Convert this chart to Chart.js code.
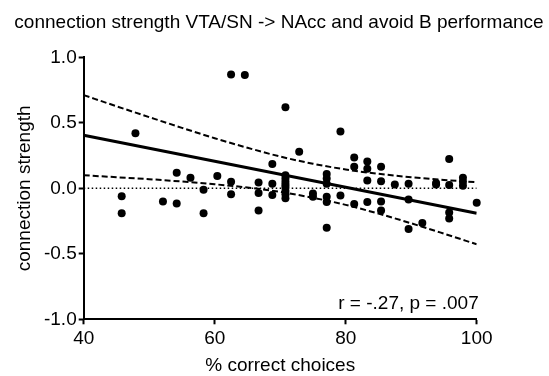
<!DOCTYPE html>
<html>
<head>
<meta charset="utf-8">
<script src="https://cdn.jsdelivr.net/npm/chart.js@4.4.0/dist/chart.umd.min.js"></script>
<style>
  html, body { margin: 0; padding: 0; background: #fff; }
</style>
</head>
<body>
<canvas id="corrChart" width="549" height="376"></canvas>
<script>
// Text
const chartTitle = "connection strength VTA/SN -> NAcc and avoid B performance";
const xTitle = "% correct choices";
const yTitle = "connection strength";
const statText = "r = -.27, p = .007";

// Axis ticks
const xTicks = [40, 60, 80, 100];
const yTicks = [-1.0, -0.5, 0.0, 0.5, 1.0];

// One entry per subject: % correct choices and VTA/SN -> NAcc connection strength
const pctCorrect = [
  45.8, 45.8, 47.9, 52.1, 54.2, 54.2, 56.3, 58.3, 58.3, 60.4,
  62.5, 62.5, 62.5, 64.6, 66.7, 66.7, 66.7, 68.8, 68.8, 68.8,
  70.8, 70.8, 70.8, 70.8, 70.8, 70.8, 70.8, 70.8, 70.8, 72.9,
  75.0, 75.0, 77.1, 77.1, 77.1, 77.1, 77.1, 77.1, 79.2, 79.2,
  81.3, 81.3, 81.3, 83.3, 83.3, 83.3, 83.3, 85.4, 85.4, 85.4,
  85.4, 87.5, 89.6, 89.6, 89.6, 91.7, 93.8, 93.8, 95.8, 95.8,
  95.8, 95.8, 97.9, 97.9, 97.9, 100
];
const connStrength = [
  -0.06, -0.19, 0.42, -0.10, 0.12, -0.115, 0.08, -0.01, -0.19, 0.095,
  0.87, 0.05, -0.045, 0.865, 0.045, -0.035, -0.17, 0.185, 0.035, -0.05,
  0.62, 0.10, 0.075, 0.05, 0.03, 0.01, -0.02, -0.045, -0.075, 0.28,
  -0.04, -0.065, 0.11, 0.075, 0.035, -0.065, -0.105, -0.30, 0.435, -0.055,
  0.235, 0.165, -0.12, 0.205, 0.15, 0.06, -0.105, 0.165, 0.055, -0.10,
  -0.17, 0.03, 0.035, -0.085, -0.31, -0.265, 0.04, 0.03, 0.225, 0.025,
  -0.185, -0.23, 0.08, 0.05, 0.02, -0.11
];

// Regression line
const fitX = [40, 100];
const fitY = [0.406, -0.19];

// 95% confidence band around the fit
const bandX = [40, 45, 50, 55, 60, 65, 70, 75, 80, 85, 90, 95, 100];
const bandUpper = [0.712, 0.627, 0.544, 0.462, 0.383, 0.310, 0.243, 0.188, 0.144, 0.111, 0.085, 0.064, 0.047];
const bandLower = [0.100, 0.085, 0.070, 0.052, 0.031, 0.006, -0.027, -0.072, -0.126, -0.193, -0.267, -0.346, -0.427];

// Zero reference line
const zeroX = [40, 100];
const zeroY = [0, 0];

function toPoints(xs, ys) {
    return xs.map((x, i) => ({ x: x, y: ys[i] }));
}

Chart.defaults.font.family = "'Liberation Sans', Arial, Helvetica, sans-serif";
Chart.defaults.font.size = 19;
Chart.defaults.color = '#000';

// r / p value in the lower right corner
const statLabel = {
    id: 'statLabel',
    afterDatasetsDraw(chart) {
        const { ctx, chartArea } = chart;
        ctx.save();
        ctx.font = "19px 'Liberation Sans', Arial, sans-serif";
        ctx.fillStyle = '#000';
        ctx.textAlign = 'right';
        ctx.textBaseline = 'alphabetic';
        ctx.fillText(statText, chartArea.right + 2, chartArea.bottom - 10);
        ctx.restore();
    }
};

const axisGrid = {
    display: true,
    drawOnChartArea: false,
    drawTicks: true,
    tickLength: 5,
    tickWidth: 2,
    color: '#000',
    tickColor: '#000'
};
const axisBorder = { display: true, color: '#000', width: 2 };

const bandStyle = {
    type: 'line',
    xAxisID: 'x',
    yAxisID: 'y',
    borderColor: '#000',
    borderWidth: 2,
    borderDash: [6, 3],
    pointRadius: 0,
    fill: false,
    cubicInterpolationMode: 'monotone'
};

new Chart(document.getElementById('corrChart'), {
    type: 'scatter',
    data: {
        datasets: [
            {
                type: 'scatter',
                xAxisID: 'x',
                yAxisID: 'y',
                data: toPoints(pctCorrect, connStrength),
                pointRadius: 4,
                pointBackgroundColor: '#000',
                pointBorderWidth: 0,
                clip: false
            },
            {
                type: 'line',
                xAxisID: 'x',
                yAxisID: 'y',
                data: toPoints(fitX, fitY),
                borderColor: '#000',
                borderWidth: 3,
                pointRadius: 0,
                fill: false
            },
            Object.assign({ data: toPoints(bandX, bandUpper) }, bandStyle),
            Object.assign({ data: toPoints(bandX, bandLower) }, bandStyle),
            {
                type: 'line',
                xAxisID: 'x',
                yAxisID: 'y',
                data: toPoints(zeroX, zeroY),
                borderColor: '#000',
                borderWidth: 1.5,
                borderDash: [1.5, 2.5],
                pointRadius: 0,
                fill: false
            }
        ]
    },
    options: {
        responsive: false,
        animation: false,
        layout: { padding: { left: 9 } },
        plugins: {
            legend: { display: false },
            tooltip: { enabled: false },
            title: {
                display: true,
                text: chartTitle,
                color: '#000',
                font: { size: 19, weight: 'normal' },
                padding: { top: 11, bottom: 23.6 }
            }
        },
        scales: {
            x: {
                type: 'linear',
                position: 'bottom',
                min: 40,
                max: 100,
                afterBuildTicks: s => { s.ticks = xTicks.map(v => ({ value: v })); },
                afterFit: s => { s.height = 56.7; },
                ticks: { padding: 3, color: '#000' },
                grid: axisGrid,
                border: axisBorder,
                title: {
                    display: true,
                    text: xTitle,
                    color: '#000',
                    font: { size: 19, lineHeight: 1 },
                    padding: { top: 0, bottom: 1 }
                }
            },
            y: {
                type: 'linear',
                position: 'left',
                min: -1,
                max: 1,
                afterBuildTicks: s => { s.ticks = yTicks.map(v => ({ value: v })); },
                afterFit: s => { s.width = 74.7; },
                ticks: { padding: 2, color: '#000', callback: v => v.toFixed(1) },
                grid: axisGrid,
                border: axisBorder,
                title: {
                    display: true,
                    text: yTitle,
                    color: '#000',
                    font: { size: 19, lineHeight: 1 },
                    padding: { top: 6, bottom: 0 }
                }
            },
            // empty right-hand axis, only reserves the margin
            y2: {
                type: 'linear',
                position: 'right',
                min: -1,
                max: 1,
                grid: { display: false },
                border: { display: false },
                ticks: { display: false },
                afterFit: s => { s.width = 72.3; }
            }
        }
    },
    plugins: [statLabel]
});
</script>
</body>
</html>
